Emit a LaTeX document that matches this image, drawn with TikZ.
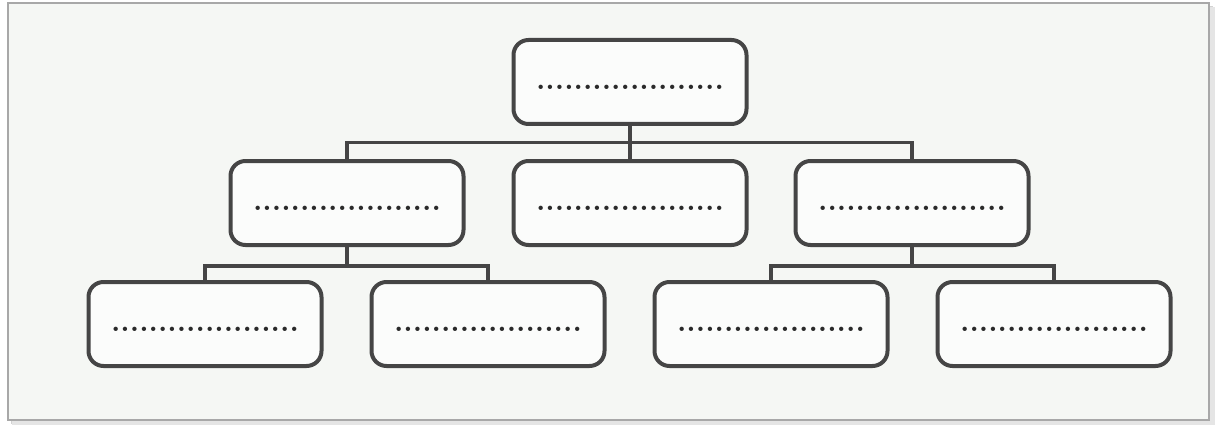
\documentclass[tikz,border=0pt]{standalone}
\usepackage{fontspec}
\usepackage{tikz}
\usetikzlibrary{calc}
\definecolor{linegray}{HTML}{454545}
\definecolor{dotgray}{HTML}{2A2A2A}
\definecolor{paper}{HTML}{F5F7F4}
\definecolor{framegray}{HTML}{A8A8A8}
\begin{document}
\begin{tikzpicture}[x=1pt,y=-1pt,
  box/.style={draw=linegray, line width=4pt, rounded corners=15pt, fill=white!60!paper,
    minimum width=233pt, minimum height=84pt, inner sep=0pt},
  dotline/.style={inner sep=0pt, text=dotgray, font=\fontsize{30}{30}\selectfont\bfseries},
  conn/.style={draw=linegray, line width=3.6pt}]
\useasboundingbox (0,0) rectangle (1223,425);
% page frame with shadow
\fill[gray!35] (11,6) rectangle (1213,424);
\fill[gray!20] (12,7) rectangle (1215,425);
\filldraw[fill=paper, draw=framegray, line width=1.2pt] (8,3) rectangle (1209,420);
% boxes
\node[box] (top) at (630,82) {};
\node[box] (m1) at (347,203) {};
\node[box] (m2) at (630,203) {};
\node[box] (m3) at (912,203) {};
\node[box] (b1) at (205,324) {};
\node[box] (b2) at (488,324) {};
\node[box] (b3) at (771,324) {};
\node[box] (b4) at (1054,324) {};
% dotted text
\foreach \n in {top,m1,m2,m3,b1,b2,b3,b4}{
  \node[dotline] (d\n) at ([yshift=-5pt]\n.center) {....................};
}
% connectors
\coordinate (j0) at ($(top.south)!0.5!(m2.north)$);
\draw[conn] (top.south) -- (m2.north);
\draw[conn] (m1.north) |- (j0) -| (m3.north);
\coordinate (j1) at ([yshift=-19pt]m1.south);
\draw[conn] (m1.south) -- (j1);
\draw[conn] (b1.north) |- (j1) -| (b2.north);
\coordinate (j2) at ([yshift=-19pt]m3.south);
\draw[conn] (m3.south) -- (j2);
\draw[conn] (b3.north) |- (j2) -| (b4.north);
\end{tikzpicture}
\end{document}
